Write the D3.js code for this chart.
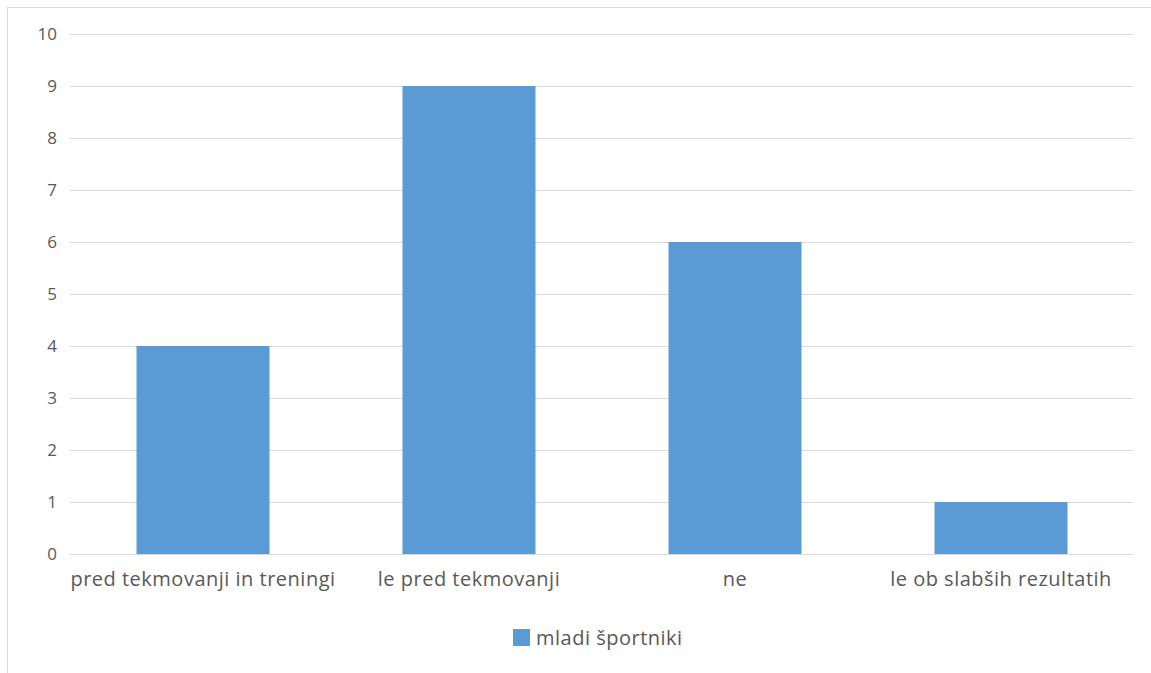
<!DOCTYPE html>
<html><head><meta charset="utf-8">
<script src="https://cdn.jsdelivr.net/npm/d3@7/dist/d3.min.js"></script>
<style>body{margin:0;background:#fff;}svg{display:block;font-family:"Open Sans",sans-serif;}</style>
</head><body>
<script>
const categories = ["pred tekmovanji in treningi","le pred tekmovanji","ne","le ob slabših rezultatih"];
const values = [4, 9, 6, 1];
const yTicks = [0,1,2,3,4,5,6,7,8,9,10];
const seriesName = "mladi športniki";

(function(){
const W = 1151, H = 673;
const svg = d3.select("body").append("svg").attr("width", W).attr("height", H);
svg.append("rect").attr("x",7.5).attr("y",7.5).attr("width",W).attr("height",H).attr("fill","#fff").attr("stroke","#d9d9d9");

const pL = 70, pR = 1134, pT = 34, pB = 554;
const x = d3.scaleBand().domain(categories).range([pL, pR]).paddingInner(0.5).paddingOuter(0.25);
const y = d3.scaleLinear().domain([0, 10]).range([pB, pT]);

svg.append("g").selectAll("line").data(yTicks).join("line")
  .attr("x1", pL).attr("x2", pR - 1)
  .attr("y1", d => Math.round(y(d)) + 0.5).attr("y2", d => Math.round(y(d)) + 0.5)
  .attr("stroke", "#d9d9d9").attr("stroke-width", 1);

svg.append("g").selectAll("text").data(yTicks).join("text")
  .attr("x", 57).attr("y", d => y(d)).attr("dy", "0.35em")
  .attr("text-anchor", "end").attr("fill", "#595959").attr("font-size", 17).text(d => d);

svg.append("g").selectAll("rect").data(values).join("rect")
  .attr("x", (d, i) => x(categories[i])).attr("width", x.bandwidth())
  .attr("y", d => y(d)).attr("height", d => y(0) - y(d))
  .attr("fill", "#5b9bd5");

const xAxis = d3.axisBottom(x).tickSize(0).tickPadding(0);
const gx = svg.append("g").attr("transform", `translate(0,${pB})`).call(xAxis);
gx.select(".domain").remove();
gx.selectAll("text").attr("fill", "#595959").attr("font-size", 20).attr("letter-spacing", 0.5)
  .attr("font-family", "'Open Sans',sans-serif").attr("y", 32).attr("dy", 0);

const lg = svg.append("g");
lg.append("rect").attr("x", 513).attr("y", 629).attr("width", 17).attr("height", 17).attr("fill", "#5b9bd5");
lg.append("text").attr("x", 536).attr("y", 645).attr("fill", "#595959").attr("font-size", 20).attr("letter-spacing", 0.5).text(seriesName);
})();
</script>
</body></html>
